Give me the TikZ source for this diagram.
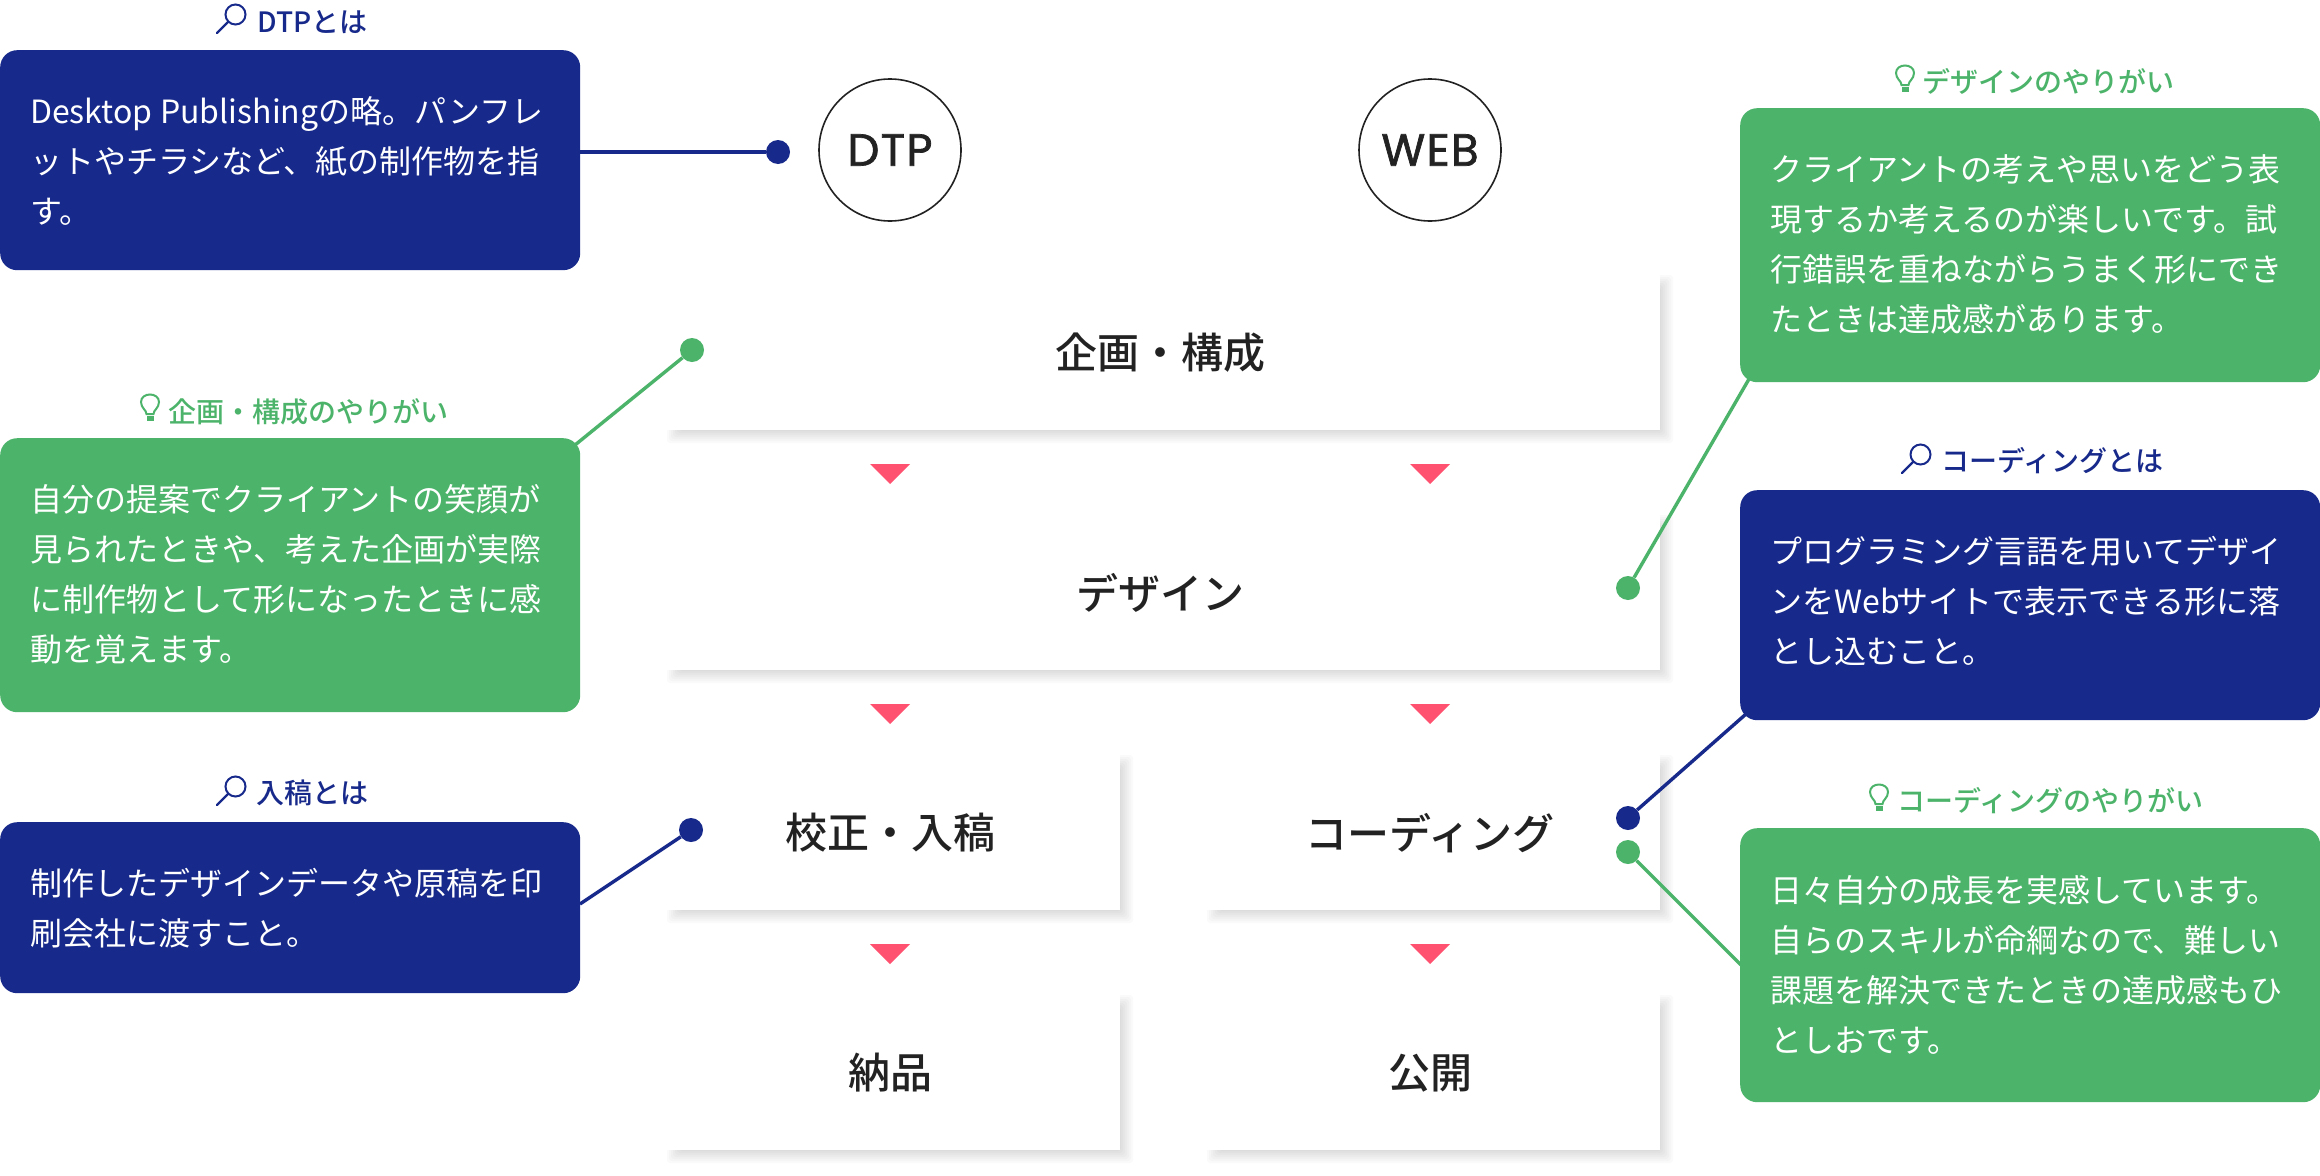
\documentclass[tikz,border=0pt]{standalone}
\usepackage{fontspec}
\setmainfont{Noto Sans CJK JP}
\newfontfamily\bodyfont{Noto Sans CJK JP}
\newfontfamily\flowfont{Noto Sans CJK JP Medium}
\newfontfamily\capfont{Noto Sans CJK JP Medium}
\newfontfamily\latinfont[LetterSpace=3,FakeBold=1.5]{Poppins}
\definecolor{navy}{HTML}{17298A}
\definecolor{leaf}{HTML}{4CB46A}
\definecolor{coral}{HTML}{FF5170}
\definecolor{ink}{HTML}{222222}
\tikzset{
  x=1pt,y=-1pt,
  infobox/.style={rounded corners=17pt,anchor=north west,minimum width=580pt,inner sep=0pt},
  navybox/.style={infobox,fill=navy},
  leafbox/.style={infobox,fill=leaf},
  boxtext/.style={anchor=north west,inner sep=0pt,text=white,align=left,text width=530pt,font=\fontsize{32}{50}\selectfont\bodyfont},
  stage/.style={fill=white,minimum height=155pt,inner sep=0pt},
  stagetext/.style={inner sep=0pt,text=ink,font=\fontsize{42}{46}\selectfont\flowfont},
  wide/.style={stage,minimum width=993pt},
  half/.style={stage,minimum width=453pt},
  dotn/.style={circle,inner sep=0pt,minimum size=24pt},
  badge/.style={circle,draw=ink,line width=1.6pt,minimum size=142pt,inner sep=0pt,text=ink,font=\fontsize{45}{50}\selectfont\latinfont},
  caption/.style={inner sep=0pt,anchor=west,font=\fontsize{28}{30}\selectfont\capfont},
  wire/.style={line width=3.4pt},
  tri/.style={fill=coral},
  lens/.pic={\draw[line width=2pt,pic actions] (4.5,-4.5) circle (10pt);
    \draw[line width=2.2pt,pic actions,line cap=round] (-3,3)--(-14,14);},
  bulb/.pic={\draw[line width=2pt,pic actions] (-3.5,5) .. controls (-3.5,1) and (-9,-1) .. (-9,-7) .. controls (-9,-17) and (9,-17) .. (9,-7) .. controls (9,-1) and (3.5,1) .. (3.5,5) -- cycle;
    \fill[pic actions] (-3.5,7) rectangle (3.5,12);},
}
\newcommand\softshadow[4]{%
  \foreach \d in {-6,-4,-2,0,2,4,6}{
    \fill[black,opacity=0.018,rounded corners=3pt] (#1+6-\d,#2+6-\d) rectangle (#3+7+\d,#4+7+\d);}
}
\begin{document}
\begin{tikzpicture}
\useasboundingbox (0,0) rectangle (2320,1175);
\fill[white] (0,0) rectangle (2320,1175);
% shadows
\softshadow{667}{275}{1660}{430}
\softshadow{667}{515}{1660}{670}
\softshadow{667}{755}{1120}{910}
\softshadow{1207}{755}{1660}{910}
\softshadow{667}{995}{1120}{1150}
\softshadow{1207}{995}{1660}{1150}
% stages
\node[wide] (plan) at (1163.5,352.5) {};
\node[wide] (design) at (1163.5,592.5) {};
\node[half] (proof) at (893.5,832.5) {};
\node[half] (code) at (1433.5,832.5) {};
\node[half] (deliver) at (893.5,1072.5) {};
\node[half] (publish) at (1433.5,1072.5) {};
\node[stagetext] (tplan) at (1160,353) {企画・構成};
\node[stagetext] (tdesign) at (1160,593) {デザイン};
\node[stagetext] (tproof) at (890,833) {校正・入稿};
\node[stagetext] (tcode) at (1430,833) {コーディング};
\node[stagetext] (tdeliver) at (890,1073) {納品};
\node[stagetext] (tpublish) at (1430,1073) {公開};
% triangles
\foreach \cx in {890,1430}{\foreach \cy in {464,704,944}{
  \fill[tri] (\cx-20,\cy) -- (\cx+20,\cy) -- (\cx,\cy+20) -- cycle;}}
% badges
\node[badge] (dtp) at (890,150) {DTP};
\node[badge] (web) at (1430,150) {WEB};
% info boxes
\node[navybox,minimum height=220pt] (b1) at (0,50) {};
\node[leafbox,minimum height=274pt] (b2) at (0,438) {};
\node[navybox,minimum height=171pt] (b3) at (0,822) {};
\node[leafbox,minimum height=274pt] (b4) at (1740,108) {};
\node[navybox,minimum height=230pt] (b5) at (1740,490) {};
\node[leafbox,minimum height=274pt] (b6) at (1740,828) {};
\node[boxtext] (t1) at (30,88.5) {\strut Desktop\hspace{-3pt} Publishingの略。パンフレ\\ットやチラシなど、紙の制作物を指\\す。};
\node[boxtext] (t2) at (30,476.5) {\strut 自分の提案でクライアントの笑顔が\\見られたときや、考えた企画が実際\\に制作物として形になったときに感\\動を覚えます。};
\node[boxtext] (t3) at (30,860) {\strut 制作したデザインデータや原稿を印\\刷会社に渡すこと。};
\node[boxtext] (t4) at (1770,146) {\strut クライアントの考えや思いをどう表\\現するか考えるのが楽しいです。試\\行錯誤を重ねながらうまく形にでき\\たときは達成感があります。};
\node[boxtext] (t5) at (1770,528) {\strut プログラミング言語を用いてデザイ\\ンをWeb\hspace{-3pt}サイトで表示できる形に落\\とし込むこと。};
\node[boxtext] (t6) at (1770,867) {\strut 日々自分の成長を実感しています。\\自らのスキルが命綱なので、難しい\\課題を解決できたときの達成感もひ\\としおです。};
% captions
\node[caption,text=navy] (c1) at (257,22) {DTPとは};
\node[caption,text=leaf] (c2) at (168.5,412) {企画・構成のやりがい};
\node[caption,text=navy] (c3) at (256.5,793) {入稿とは};
\node[caption,text=leaf] (c4) at (1922.5,81) {デザインのやりがい};
\node[caption,text=navy] (c5) at (1941,461) {コーディングとは};
\node[caption,text=leaf] (c6) at (1897,801) {コーディングのやりがい};
% icons
\pic[navy] at (231,19) {lens};
\pic[leaf] at (150,409) {bulb};
\pic[navy] at (231,791) {lens};
\pic[leaf] at (1905,80) {bulb};
\pic[navy] at (1916,459) {lens};
\pic[leaf] at (1879,799) {bulb};
% dots
\node[dotn,fill=navy] (d1) at (778,152) {};
\node[dotn,fill=leaf] (d2) at (692,350) {};
\node[dotn,fill=navy] (d3) at (691,830) {};
\node[dotn,fill=leaf] (d4) at (1628,588) {};
\node[dotn,fill=navy] (d5) at (1628,818) {};
\node[dotn,fill=leaf] (d6) at (1628,852) {};
% free ends on the box edges
\coordinate (e2) at (575,445);
\coordinate (e3) at (580,904);
\coordinate (e4) at (1749,379);
\coordinate (e5) at (1746,714);
\coordinate (e6) at (1741,965);
\draw[wire,navy] (b1.east |- d1) -- (d1);
\draw[wire,leaf] (e2) -- (d2);
\draw[wire,navy] (e3) -- (d3);
\draw[wire,leaf] (e4) -- (d4);
\draw[wire,navy] (e5) -- (d5);
\draw[wire,leaf] (e6) -- (d6);
\end{tikzpicture}
\end{document}
